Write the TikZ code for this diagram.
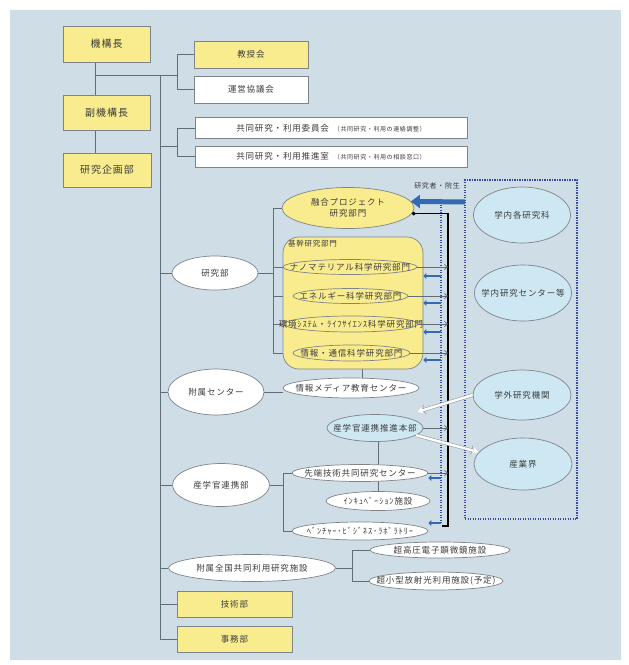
\documentclass[tikz,border=0pt]{standalone}
\usepackage{fontspec}
\setmainfont{Noto Sans CJK JP}[LetterSpace=10]
\usetikzlibrary{shapes.geometric,arrows.meta,calc}
\definecolor{bgc}{RGB}{206,221,230}
\definecolor{yel}{RGB}{249,236,142}
\definecolor{lblue}{RGB}{206,232,243}
\definecolor{bdr}{RGB}{128,132,136}
\definecolor{lnc}{RGB}{96,110,120}
\definecolor{txt}{RGB}{60,60,60}
\definecolor{dblue}{RGB}{58,74,160}
\definecolor{mblue}{RGB}{52,105,180}
\pgfdeclarelayer{bgl}
\pgfdeclarelayer{lines}
\pgfsetlayers{bgl,lines,main}
\begin{document}
\begin{tikzpicture}[x=1pt,y=-1pt,
  every node/.style={text=txt, inner sep=0pt},
  ybox/.style={rectangle, draw=bdr, fill=yel, line width=0.8pt, font=\fontsize{10}{12}\selectfont},
  wbox/.style={ybox, fill=white},
  ell/.style={ellipse, draw=bdr, line width=0.7pt, inner sep=0pt},
  wel/.style={ell, fill=white},
  yell/.style={ell, fill=yel},
  bell/.style={ell, fill=lblue},
  lab/.style={font=\fontsize{8.5}{10.5}\selectfont, text=txt},
  conn/.style={draw=lnc, line width=0.9pt},
  garrow/.style={draw=lnc, line width=0.7pt, -{Straight Barb[length=3pt,width=5pt]}},
  sbarrow/.style={draw=mblue, line width=2.6pt, -{Triangle[length=3pt,width=5.5pt]}},
  dline/.style={draw=dblue, line width=1.2pt, dash pattern=on 1.2pt off 1.3pt},
  warrow/.style={draw=white, line width=2.4pt, -{Stealth[length=7pt,width=7.5pt]},
     preaction={draw=bdr!80, line width=3.6pt, -{Stealth[length=8.5pt,width=9pt]}}}
]
\useasboundingbox (0,0) rectangle (629,665);
\begin{pgfonlayer}{bgl}
\fill[white] (0,0) rectangle (629,665);
\fill[bgc] (10,10) rectangle (621,660);
\end{pgfonlayer}

% ---- coordinates for connector bends
\coordinate (vx) at (95,75);
\coordinate (bra) at (177,75);
\coordinate (t0) at (160,75);
\coordinate (br2) at (177,146);
\coordinate (rb) at (273,208);
\coordinate (vm) at (362,369);
\coordinate (rc) at (283,473);
\coordinate (rd) at (352,550);
\coordinate (blt) at (448,213);
\coordinate (blb) at (448,526);
\coordinate (bdt) at (441,202);
\coordinate (bdb) at (441,523);
\coordinate (bb) at (465,202);
\coordinate (wa1) at (417,412);

% ---- left column boxes
\node[ybox, minimum width=87, minimum height=36] (kiko) at (106.5,44) {機構長};
\node[ybox, minimum width=87, minimum height=35] (fuku) at (106.5,113) {副機構長};
\node[ybox, minimum width=88, minimum height=34] (kikaku) at (107,170) {研究企画部};

\node[ybox, minimum width=114, minimum height=27, font=\fontsize{8.5}{10}\selectfont] (kyoju) at (251,54.5) {教授会};
\node[wbox, minimum width=114, minimum height=27, font=\fontsize{8.5}{10}\selectfont] (unei) at (251,89.5) {運営協議会};
\node[wbox, minimum width=272, minimum height=21, font=\fontsize{8.5}{10}\selectfont] (iinkai) at (331,128)
  {共同研究・利用委員会\hspace{5pt}{\fontsize{6}{7}\selectfont（共同研究・利用の連絡調整）}};
\node[wbox, minimum width=272, minimum height=21, font=\fontsize{8.5}{10}\selectfont] (suishin) at (331,156.5)
  {共同研究・利用推進室\hspace{5pt}{\fontsize{6}{7}\selectfont（共同研究・利用の相談窓口）}};

% ---- second level ellipses
\node[wel, minimum width=86, minimum height=34, label={[lab]center:研究部}] (kenkyubu) at (215,273) {};
\node[wel, minimum width=96, minimum height=46, label={[lab]center:附属センター}] (fuzoku) at (216,392) {};
\node[wel, minimum width=97, minimum height=43, label={[lab]center:産学官連携部}] (renkeibu) at (221,485) {};
\node[wel, minimum width=167, minimum height=27, label={[lab]center:附属全国共同利用研究施設}] (zenkoku) at (252,568) {};
\node[ybox, minimum width=115, minimum height=26, font=\fontsize{8.5}{10}\selectfont] (gijutsu) at (234.5,604) {技術部};
\node[ybox, minimum width=115, minimum height=26, font=\fontsize{8.5}{10}\selectfont] (jimu) at (234.5,639) {事務部};

% ---- research divisions
\node[yell, minimum width=132, minimum height=41, label={[lab,align=center]center:{融合プロジェクト\\研究部門}}] (yugo) at (348,208) {};
\node[rectangle, rounded corners=16pt, draw=bdr, line width=0.7pt, fill=yel, minimum width=140, minimum height=132] (kikan) at (353,303) {};
\node[lab, anchor=north west, font=\fontsize{7.5}{9}\selectfont] (kikanlab) at (288,240) {基幹研究部門};
\node[yell, minimum width=134, minimum height=15, label={[lab]center:ナノマテリアル科学研究部門}] (nano) at (350,267) {};
\node[yell, minimum width=115, minimum height=15, label={[lab]center:エネルギー科学研究部門}] (ene) at (350.5,296) {};
\node[yell, minimum width=134, minimum height=16, label={[lab]center:環境ｼｽﾃﾑ・ﾗｲﾌｻｲｴﾝｽ科学研究部門}] (kankyo) at (351,324) {};
\node[yell, minimum width=117, minimum height=16, label={[lab]center:情報・通信科学研究部門}] (joho) at (351.5,353) {};

% ---- centers
\node[wel, minimum width=136, minimum height=20, label={[lab]center:情報メディア教育センター}] (jmedia) at (351,388) {};
\node[bell, minimum width=96, minimum height=27, label={[lab]center:産学官連携推進本部}] (sangaku) at (375,428) {};
\node[wel, minimum width=136, minimum height=17, label={[lab]center:先端技術共同研究センター}] (sentan) at (360,473) {};
\node[wel, minimum width=104, minimum height=19, label={[lab]center:ｲﾝｷｭﾍﾞｰｼｮﾝ施設}] (incub) at (378,501) {};
\node[wel, minimum width=136, minimum height=18, label={[lab]center:ﾍﾞﾝﾁｬｰ･ﾋﾞｼﾞﾈｽ･ﾗﾎﾞﾗﾄﾘｰ}] (venture) at (360,531) {};
\node[wel, minimum width=140, minimum height=16, label={[lab]center:超高圧電子顕微鏡施設}] (chokoatsu) at (440,550) {};
\node[wel, minimum width=134, minimum height=18, label={[lab]center:超小型放射光利用施設(予定)}] (chokogata) at (436,581) {};

% ---- external block
\node[rectangle, dline, minimum width=112, minimum height=339] (ext) at (521,349.5) {};
\node[bell, minimum width=97, minimum height=56, label={[lab]center:学内各研究科}] (uchi1) at (522,215) {};
\node[bell, minimum width=97, minimum height=56, label={[lab]center:学内研究センター等}] (uchi2) at (523,293) {};
\node[bell, minimum width=98, minimum height=50, label={[lab]center:学外研究機関}] (gakugai) at (522,395) {};
\node[bell, minimum width=98, minimum height=52, label={[lab]center:産業界}] (sangyo) at (523,464) {};
\node[font=\fontsize{7}{8}\selectfont] (inshi) at (437,186) {研究者・院生};

% ---- tree connectors (behind nodes)
\begin{pgfonlayer}{lines}
\draw[conn] (kiko.south -| vx) -- (fuku.north -| vx);
\draw[conn] (fuku.south -| vx) -- (kikaku.north -| vx);
\draw[conn] (vx) -- (bra);
\draw[conn] (kyoju.west) -- (kyoju.west -| bra) -- (unei.west -| bra) -- (unei.west);
\draw[conn] (t0) -- (t0 |- jimu.west);
\draw[conn] (br2 -| t0) -- (br2);
\draw[conn] (iinkai.west) -- (iinkai.west -| br2) -- (suishin.west -| br2) -- (suishin.west);
\foreach \n in {kenkyubu,fuzoku,renkeibu,zenkoku,gijutsu,jimu}
  \draw[conn] (\n.west -| t0) -- (\n.west);
\draw[conn] (kenkyubu.east) -- (kenkyubu.east -| rb);
\draw[conn] (yugo.west) -- (rb) -- (rb |- joho.west) -- (joho.west);
\foreach \n in {nano,ene,kankyo}
  \draw[conn] (\n.west -| rb) -- (\n.west);
\draw[conn] (kikan.south -| vm) -- (jmedia.north -| vm);
\draw[conn] (fuzoku.east) -- (fuzoku.east -| jmedia.west);
\draw[conn] (sangaku.south -| incub.north) -- (incub.north);
\draw[conn] (renkeibu.east) -- (renkeibu.east -| rc);
\draw[conn] (sentan.west) -- (rc) -- (rc |- venture.west) -- (venture.west);
\draw[conn] (zenkoku.east) -- (zenkoku.east -| rd);
\draw[conn] (chokoatsu.west) -- (rd) -- (rd |- chokogata.west) -- (chokogata.west);
\end{pgfonlayer}

% ---- right-side flows
\draw[dline] (bdt) -- (bdb);
\draw[draw=black, line width=1.3pt, {Circle[length=3.5pt]}-] (yugo.-5) -- (yugo.-5 -| blt) -- (blb) -- ++(-6,0);
\foreach \n in {nano,ene,kankyo,joho,sangaku,sentan}
  \draw[garrow] (\n.east) -- (\n.east -| blt);
\draw[draw=mblue, line width=5pt, -{Triangle[length=9pt,width=13pt]}] (bb) -- (yugo.6);
\coordinate (s1) at (441,276);
\coordinate (s2) at (441,303);
\coordinate (s3) at (441,332);
\coordinate (s4) at (441,360);
\coordinate (s5) at (441,478);
\coordinate (s6) at (441,523);
\foreach \s in {s1,s2,s3,s4}
  \draw[sbarrow] (\s) -- (\s -| kikan.east);
\draw[sbarrow] (s5) -- (s5 -| sentan.east);
\draw[sbarrow] (s6) -- (s6 -| sentan.east);
\draw[warrow] (gakugai.west) -- (wa1);
\draw[warrow] (sangaku.-10) -- (sangyo.165);
\end{tikzpicture}
\end{document}
